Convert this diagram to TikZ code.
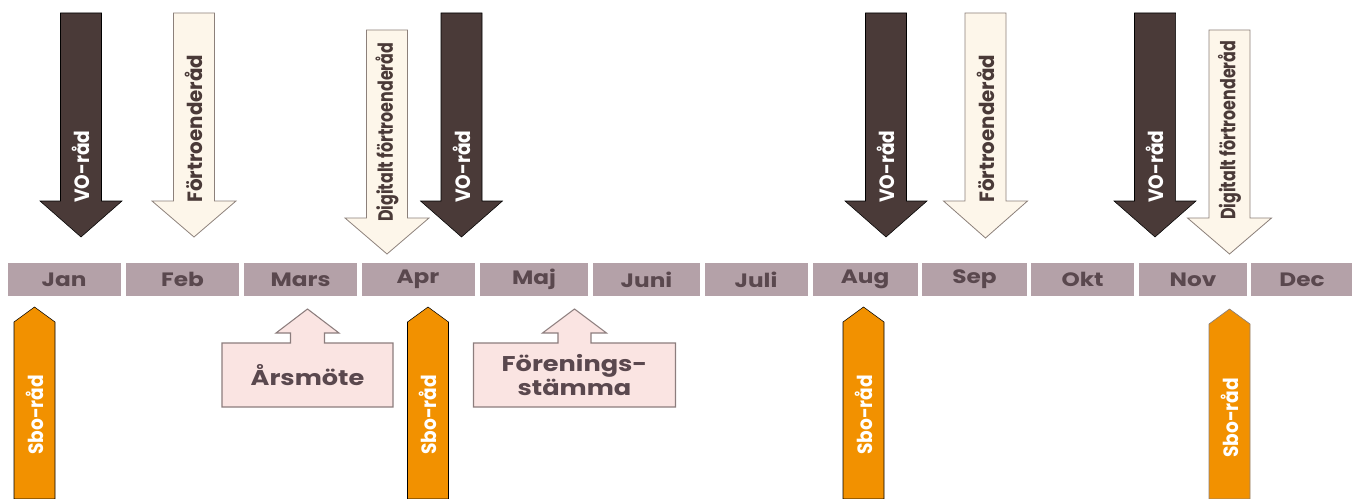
\documentclass[tikz,border=0pt]{standalone}
\usepackage{fontspec}
\setmainfont{Poppins}
\newfontfamily\wideFont{Poppins}[FakeStretch=1.2]
\usepackage{tikz}

\definecolor{voDark}{RGB}{74,58,56}
\definecolor{cream}{RGB}{253,246,234}
\definecolor{creamLine}{RGB}{140,128,122}
\definecolor{monthBg}{RGB}{180,161,168}
\definecolor{monthTxt}{RGB}{90,72,78}
\definecolor{sboOrange}{RGB}{242,145,0}
\definecolor{pinkBg}{RGB}{250,228,226}
\definecolor{pinkLine}{RGB}{140,125,125}

\tikzset{
	monthbox/.style={fill=monthBg, text=monthTxt, font=\wideFont\bfseries\fontsize{14.5}{16}\selectfont, minimum height=24.5pt, inner sep=0pt},
	darkarrow/.style={fill=voDark},
	lightarrow/.style={fill=cream, draw=creamLine, line width=0.6pt},
	sboarrow/.style={fill=sboOrange},
	callout/.style={fill=pinkBg, draw=pinkLine, line width=0.8pt},
	arrowlabel/.style={rotate=90, anchor=west, inner sep=0pt, font=\bfseries\fontsize{15.5}{16}\selectfont},
	calloutlabel/.style={text=monthTxt, align=center, font=\wideFont\bfseries\fontsize{16}{16.5}\selectfont},
}

\begin{document}
\begin{tikzpicture}[x=0.75pt,y=0.75pt,yscale=-1,xscale=1]
	\useasboundingbox (0,0) rectangle (1352,499);
	
	%Shape: Month bar
	\node [monthbox, minimum width=84.75pt] (jan) at (64,279.6) {Jan};
	\node [monthbox, minimum width=84.75pt] (feb) at (182.5,279.6) {Feb};
	\node [monthbox, minimum width=84.75pt] (mars) at (300.5,279.6) {Mars};
	\node [monthbox, minimum width=84.75pt] (apr) at (418,279.6) {Apr};
	\node [monthbox, minimum width=81.4pt] (maj) at (534,279.6) {Maj};
	\node [monthbox, minimum width=80.25pt] (juni) at (646.5,279.6) {Juni};
	\node [monthbox, minimum width=77.25pt] (juli) at (756,279.6) {Juli};
	\node [monthbox, minimum width=78.75pt] (aug) at (865,279.6) {Aug};
	\node [monthbox, minimum width=78.75pt] (sep) at (974.5,279.6) {Sep};
	\node [monthbox, minimum width=77.25pt] (okt) at (1082.5,279.6) {Okt};
	\node [monthbox, minimum width=81pt] (nov) at (1193,279.6) {Nov};
	\node [monthbox, minimum width=76.5pt] (dec) at (1302,279.6) {Dec};
	
	%Shape: Down arrow VO-rad Jan
	\draw [darkarrow] (60.5,13) -- (101.5,13) -- (101.5,201) -- (122,201) -- (81,237) -- (40,201) -- (60.5,201) -- cycle ;
	%Shape: Down arrow Fortroenderad Feb
	\draw [lightarrow] (173.5,13) -- (214.5,13) -- (214.5,201) -- (236,201) -- (194,237) -- (152,201) -- (173.5,201) -- cycle ;
	%Shape: Down arrow Digitalt Apr
	\draw [lightarrow] (366.5,30) -- (407.5,30) -- (407.5,218) -- (429,218) -- (387,254) -- (345,218) -- (366.5,218) -- cycle ;
	%Shape: Down arrow VO-rad Apr
	\draw [darkarrow] (441,13) -- (482,13) -- (482,201) -- (502.5,201) -- (461.5,237) -- (420.5,201) -- (441,201) -- cycle ;
	%Shape: Down arrow VO-rad Aug
	\draw [darkarrow] (865.5,13) -- (906.5,13) -- (906.5,201) -- (927,201) -- (886,237) -- (845,201) -- (865.5,201) -- cycle ;
	%Shape: Down arrow Fortroenderad Sep
	\draw [lightarrow] (965,13) -- (1006,13) -- (1006,201) -- (1027.5,201) -- (985.5,238) -- (943.5,201) -- (965,201) -- cycle ;
	%Shape: Down arrow VO-rad Nov
	\draw [darkarrow] (1134.5,13) -- (1175.5,13) -- (1175.5,201) -- (1196,201) -- (1155,237) -- (1114,201) -- (1134.5,201) -- cycle ;
	%Shape: Down arrow Digitalt Nov
	\draw [lightarrow] (1209,30) -- (1250,30) -- (1250,218) -- (1271.5,218) -- (1229.5,254) -- (1187.5,218) -- (1209,218) -- cycle ;
	
	%Shape: Up arrows Sbo-rad
	\draw [sboarrow] (14,499) -- (14,322) -- (34.5,307) -- (55,322) -- (55,499) -- cycle ;
	\draw [sboarrow] (407.5,499) -- (407.5,322) -- (428,307) -- (448.5,322) -- (448.5,499) -- cycle ;
	\draw [sboarrow] (843,499) -- (843,322) -- (863.5,307) -- (884,322) -- (884,499) -- cycle ;
	\draw [sboarrow, draw=creamLine, line width=0.5pt] (1209,499) -- (1209,324) -- (1229.5,309) -- (1250,324) -- (1250,499) -- cycle ;
	
	%Shape: Callout Arsmote
	\draw [callout] (222,343) -- (290.5,343) -- (290.5,333) -- (276,333) -- (307.5,309) -- (339,333) -- (324.5,333) -- (324.5,343) -- (393,343) -- (393,407) -- (222,407) -- cycle ;
	%Shape: Callout Foreningsstamma
	\draw [callout] (473.5,343) -- (558,343) -- (558,333) -- (542.5,333) -- (574.5,309) -- (606.5,333) -- (591,333) -- (591,343) -- (675.5,343) -- (675.5,407) -- (473.5,407) -- cycle ;
	
	% Text Node
	\node [arrowlabel, text=white, xscale=0.9] (vo1) at (81,203) {VO-råd};
	\node [arrowlabel, text=voDark, xscale=0.96] (ft1) at (194,203) {Förtroenderåd};
	\node [arrowlabel, text=voDark, xscale=0.77] (dg1) at (387,222) {Digitalt förtroenderåd};
	\node [arrowlabel, text=white, xscale=0.9] (vo2) at (461.5,203) {VO-råd};
	\node [arrowlabel, text=white, xscale=0.9] (vo3) at (886,203) {VO-råd};
	\node [arrowlabel, text=voDark, xscale=0.96] (ft2) at (985.5,203) {Förtroenderåd};
	\node [arrowlabel, text=white, xscale=0.9] (vo4) at (1155,203) {VO-råd};
	\node [arrowlabel, text=voDark, xscale=0.77] (dg2) at (1229.5,220) {Digitalt förtroenderåd};
	% Text Node
	\node [arrowlabel, text=white, xscale=0.9] (sbo1) at (34.5,455) {Sbo-råd};
	\node [arrowlabel, text=white, xscale=0.9] (sbo2) at (428,455) {Sbo-råd};
	\node [arrowlabel, text=white, xscale=0.9] (sbo3) at (863.5,455) {Sbo-råd};
	\node [arrowlabel, text=white, xscale=0.9] (sbo4) at (1229.5,458) {Sbo-råd};
	% Text Node
	\node [calloutlabel] (arsmote) at (307.5,375) {Årsmöte};
	\node [calloutlabel] (stamma) at (574.5,375) {Förenings-\\stämma};
	
\end{tikzpicture}
\end{document}
